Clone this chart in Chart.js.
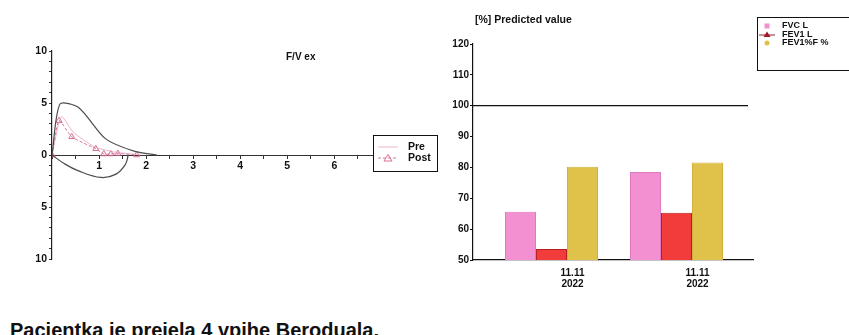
<!DOCTYPE html>
<html>
<head>
<meta charset="utf-8">
<script src="https://cdn.jsdelivr.net/npm/chart.js@4/dist/chart.umd.min.js"></script>
<style>
  html, body { margin: 0; padding: 0; background: #fff; width: 849px; height: 335px; overflow: hidden; }
  canvas { position: absolute; top: 0; }
  #fv { left: 0; }
  #pv { left: 440px; }
  .txt { position: absolute; font-family: "Liberation Sans", Arial, sans-serif; font-weight: bold; color: #111; white-space: nowrap; line-height: 1; }
</style>
</head>
<body>
<canvas id="fv" width="440" height="300"></canvas>
<canvas id="pv" width="440" height="335"></canvas>
<div class="txt" style="left:286px;top:52px;font-size:10px">F/V ex</div>
<div class="txt" style="left:475px;top:14px;font-size:10.5px">[%] Predicted value</div>
<div class="txt" style="left:10px;top:320px;font-size:20px">Pacientka je prejela 4 vpihe Beroduala.</div>

<script>
// flow/volume loop (volume L, flow L/s)
const refExVol = [0, 0.17, 0.57, 1.14, 1.76, 2.23]
const refExFlow = [0, 4.9, 4.55, 1.55, 0.35, 0]
const refInVol = [0, 0.25, 0.55, 1.04, 1.36, 1.56, 1.62]
const refInFlow = [0, -0.8, -1.5, -2.16, -1.84, -0.9, 0]
const preVol = [0, 0.2, 0.45, 0.9, 1.3, 1.8, 1.9]
const preFlow = [0, 3.7, 2.2, 0.8, 0.3, 0.05, 0]
const postVol = [0, 0.15, 0.42, 0.93, 1.1, 1.25, 1.4, 1.8]
const postFlow = [0, 3.3, 1.75, 0.6, 0.1, 0.1, 0.15, 0]

// % predicted bars
const dates = [['11.11', '2022'], ['11.11', '2022']]
const fvcPct = [65.6, 78.5]
const fev1Pct = [53.6, 65.3]
const fev1FvcPct = [80.2, 81.6]
const predicted = 100

const FONT = 'Liberation Sans'
const pts = (xs, ys) => xs.map((x, i) => ({ x: x, y: ys[i] }))

const fvLegend = {
  id: 'fvLegend',
  afterDraw(chart) {
    const ctx = chart.ctx
    const x = chart.chartArea.right + 1, y = 135
    ctx.save()
    ctx.fillStyle = '#fff'
    ctx.fillRect(x, y, 64, 36)
    ctx.strokeStyle = '#111'
    ctx.lineWidth = 1
    ctx.strokeRect(x + 0.5, y + 0.5, 64, 36)
    const rows = [chart.data.datasets[2], chart.data.datasets[3]]
    ctx.font = 'bold 10.5px ' + FONT
    ctx.textBaseline = 'middle'
    rows.forEach((ds, i) => {
      const cy = y + 12 + i * 11
      ctx.strokeStyle = ds.borderColor
      ctx.lineWidth = 1
      ctx.setLineDash(ds.borderDash || [])
      ctx.beginPath()
      ctx.moveTo(x + 5, cy)
      ctx.lineTo(x + 25, cy)
      ctx.stroke()
      ctx.setLineDash([])
      if (ds.pointStyle === 'triangle') {
        ctx.beginPath()
        ctx.moveTo(x + 15, cy - 3.5)
        ctx.lineTo(x + 19, cy + 3)
        ctx.lineTo(x + 11, cy + 3)
        ctx.closePath()
        ctx.stroke()
      }
      ctx.fillStyle = '#111'
      ctx.fillText(ds.label, x + 35, cy)
    })
    ctx.restore()
  }
}

new Chart(document.getElementById('fv'), {
  type: 'scatter',
  data: {
    datasets: [
      { label: 'ref', data: pts(refExVol, refExFlow), showLine: true, borderColor: '#4d4d4d', borderWidth: 1.2, pointRadius: 0, tension: 0.25 },
      { label: 'ref in', data: pts(refInVol, refInFlow), showLine: true, borderColor: '#4d4d4d', borderWidth: 1.2, pointRadius: 0, tension: 0.4 },
      { label: 'Pre', data: pts(preVol, preFlow), showLine: true, borderColor: 'rgba(230,150,180,0.7)', borderWidth: 1, pointRadius: 0, tension: 0.2 },
      { label: 'Post', data: pts(postVol, postFlow), showLine: true, borderColor: '#d9709a', borderDash: [3, 2], borderWidth: 1,
        pointStyle: 'triangle', pointRadius: 3.5, pointBorderColor: '#d9709a', pointBackgroundColor: 'rgba(255,255,255,0)', pointBorderWidth: 1, tension: 0.2 }
    ]
  },
  options: {
    responsive: false,
    animation: false,
    layout: { padding: { left: 0, top: 51, right: 68, bottom: 41 } },
    plugins: { legend: { display: false }, tooltip: { enabled: false } },
    scales: {
      x: {
        type: 'linear', min: 0, max: 6.8, position: { y: 0 },
        ticks: {
          stepSize: 0.5, includeBounds: false, autoSkip: false, maxRotation: 0, padding: 2,
          color: '#111', font: { family: FONT, weight: 'bold', size: 10.5 },
          callback: v => (Number.isInteger(v) && v > 0) ? String(v) : ''
        },
        grid: { drawOnChartArea: false, tickLength: 3, color: '#333' },
        border: { color: '#333', dash: [2, 2] }
      },
      y: {
        type: 'linear', min: -10, max: 10, position: 'left',
        afterFit: s => { s.width = 52 },
        ticks: {
          stepSize: 1, autoSkip: false, padding: 2, color: '#111', font: { family: FONT, weight: 'bold', size: 10.5 },
          callback: v => v % 5 === 0 ? String(Math.abs(v)) : ''
        },
        grid: { drawOnChartArea: false, tickLength: 3, color: '#333' },
        border: { color: '#222', width: 1.2 }
      }
    }
  },
  plugins: [fvLegend]
})

const pvExtras = {
  id: 'pvExtras',
  afterDatasetsDraw(chart) {
    const ctx = chart.ctx
    const a = chart.chartArea
    const yp = chart.scales.y.getPixelForValue(predicted)
    ctx.save()
    ctx.strokeStyle = '#111'
    ctx.lineWidth = 1.2
    ctx.beginPath()
    ctx.moveTo(a.left, yp)
    ctx.lineTo(a.right - 5, yp)
    ctx.stroke()

    // legend box
    const x = a.right + 4, y = 17
    ctx.lineWidth = 1
    ctx.strokeRect(x + 0.5, y + 0.5, 140, 53)
    ctx.font = 'bold 9px ' + FONT
    ctx.textBaseline = 'middle'
    chart.data.datasets.forEach((ds, i) => {
      const cy = y + 9 + i * 8.5
      const mx = x + 10
      if (i === 0) {
        ctx.fillStyle = ds.backgroundColor
        ctx.fillRect(mx - 2.5, cy - 2.5, 5, 5)
      } else if (i === 1) {
        ctx.strokeStyle = '#8a2030'
        ctx.beginPath()
        ctx.moveTo(mx - 8, cy + 0.5)
        ctx.lineTo(mx + 8, cy + 0.5)
        ctx.stroke()
        ctx.fillStyle = '#a01828'
        ctx.beginPath()
        ctx.moveTo(mx, cy - 3)
        ctx.lineTo(mx + 3.5, cy + 2.5)
        ctx.lineTo(mx - 3.5, cy + 2.5)
        ctx.closePath()
        ctx.fill()
      } else {
        ctx.fillStyle = ds.backgroundColor
        ctx.beginPath()
        ctx.arc(mx, cy, 2.5, 0, Math.PI * 2)
        ctx.fill()
      }
      ctx.fillStyle = '#111'
      ctx.fillText(ds.label, x + 25, cy)
    })
    ctx.restore()
  }
}

const bars = (label, values, color, edge) => ({
  label: label,
  data: values.map((v, i) => ({ x: i + 1, y: v })),
  backgroundColor: color,
  borderColor: edge,
  borderWidth: 1,
  categoryPercentage: 0.744,
  barPercentage: 1
})

new Chart(document.getElementById('pv'), {
  type: 'bar',
  data: {
    datasets: [
      bars('FVC L', fvcPct, '#f290d2', '#e07ac0'),
      bars('FEV1 L', fev1Pct, '#f23c3c', '#b82020'),
      bars('FEV1%F %', fev1FvcPct, '#e0c24a', '#d0b23a')
    ]
  },
  options: {
    responsive: false,
    animation: false,
    layout: { padding: { left: 0, top: 44, right: 127, bottom: 35 } },
    plugins: { legend: { display: false }, tooltip: { enabled: false } },
    scales: {
      x: {
        type: 'linear', min: 0.372, max: 2.612, offset: false,
        afterBuildTicks: s => { s.ticks = dates.map((d, i) => ({ value: i + 1 })) },
        afterFit: s => { s.height = 40 },
        ticks: {
          autoSkip: false, maxRotation: 0, padding: 7, labelOffset: 21,
          color: '#111', font: { family: FONT, weight: 'bold', size: 10, lineHeight: 1.15 },
          callback: (v, i) => dates[i]
        },
        grid: { drawOnChartArea: false, drawTicks: false, offset: false, color: '#111' },
        border: { color: '#111', width: 1.2 }
      },
      y: {
        min: 50, max: 120,
        afterFit: s => { s.width = 33 },
        ticks: { stepSize: 10, padding: 1, color: '#111', font: { family: FONT, weight: 'bold', size: 10 } },
        grid: { drawOnChartArea: false, tickLength: 3, color: '#111' },
        border: { color: '#111', width: 1.2 }
      }
    }
  },
  plugins: [pvExtras]
})
</script>
</body>
</html>
